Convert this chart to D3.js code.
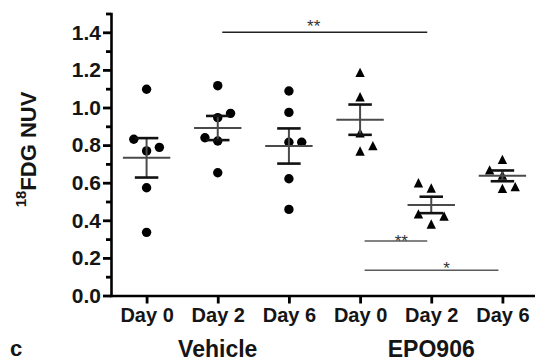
<!DOCTYPE html>
<html>
<head>
<meta charset="utf-8">
<script src="https://cdn.jsdelivr.net/npm/d3@7"></script>
<style>
  body { margin: 0; background: #fff; }
  svg { display: block; font-family: "Liberation Sans", Arial, sans-serif; }
</style>
</head>
<body>
<svg id="chart" width="535" height="361"></svg>
<script>
// groups along the x axis
const groups = ["veh0", "veh2", "veh6", "epo0", "epo2", "epo6"];
const dayLabels = ["Day 0", "Day 2", "Day 6", "Day 0", "Day 2", "Day 6"];
const treatments = ["Vehicle", "EPO906"];
const treatmentGroups = [["veh0", "veh2", "veh6"], ["epo0", "epo2", "epo6"]];

// 18FDG NUV per animal
const vehicleDay0 = [1.097, 0.831, 0.769, 0.788, 0.573, 0.336];
const vehicleDay2 = [1.116, 0.969, 0.946, 0.839, 0.822, 0.653];
const vehicleDay6 = [1.088, 0.974, 0.815, 0.815, 0.621, 0.458];
const epoDay0 = [1.187, 1.057, 0.866, 0.797, 0.769];
const epoDay2 = [0.600, 0.572, 0.434, 0.423, 0.380];
const epoDay6 = [0.724, 0.668, 0.641, 0.579, 0.570];

// side-by-side spreading of overlapping points (-1 left, 0 centre, 1 right)
const vehicleDay0Spread = [0, -1, 0, 1, 0, 0];
const vehicleDay2Spread = [0, 1, 0, -1, 0, 0];
const vehicleDay6Spread = [0, 0, 0, 1, 0, 0];
const epoDay0Spread = [0, 0, 0, 1, 0];
const epoDay2Spread = [-1, 0, -1, 1, 0];
const epoDay6Spread = [0, -1, 0, 1, 0];

const yTicks = [0, 0.2, 0.4, 0.6, 0.8, 1.0, 1.2, 1.4];
const yMinorTicks = [0.1, 0.3, 0.5, 0.7, 0.9, 1.1, 1.3, 1.5];

// significance brackets: from, to, line level, label, label baseline level, label position along line
const brackets = [
  {from: "veh2", to: "epo2", level: 1.40, text: "**", textLevel: 1.402, at: 0.446},
  {from: "epo0", to: "epo2", level: 0.29, text: "**", textLevel: 0.258, at: 0.585},
  {from: "epo0", to: "epo6", level: 0.134, text: "*", textLevel: 0.112, at: 0.612}
];

const series = [
  {key: "veh0", values: vehicleDay0, spread: vehicleDay0Spread, shape: "circle"},
  {key: "veh2", values: vehicleDay2, spread: vehicleDay2Spread, shape: "circle"},
  {key: "veh6", values: vehicleDay6, spread: vehicleDay6Spread, shape: "circle"},
  {key: "epo0", values: epoDay0, spread: epoDay0Spread, shape: "triangle"},
  {key: "epo2", values: epoDay2, spread: epoDay2Spread, shape: "triangle"},
  {key: "epo6", values: epoDay6, spread: epoDay6Spread, shape: "triangle"}
];

const svg = d3.select("#chart");
const margin = {left: 111, bottom: 295.5, top: 13.5, right: 538};

const x = d3.scalePoint()
  .domain(groups)
  .range([margin.left, margin.right])
  .padding(0.5);

const y = d3.scaleLinear()
  .domain([0, 1.5])
  .range([margin.bottom, margin.top]);

const step = x.step();

// ---- axes
svg.append("g")
  .attr("class", "yAxis")
  .attr("transform", `translate(${margin.left},0)`)
  .call(d3.axisLeft(y).tickValues(yTicks).tickFormat(d3.format(".1f"))
    .tickSize(8).tickPadding(2).tickSizeOuter(0));

svg.append("g")
  .attr("class", "minor")
  .attr("transform", `translate(${margin.left},0)`)
  .call(d3.axisLeft(y).tickValues(yMinorTicks).tickFormat("").tickSize(5).tickSizeOuter(0))
  .select(".domain").remove();

svg.append("g")
  .attr("class", "xAxis")
  .attr("transform", `translate(0,${margin.bottom})`)
  .call(d3.axisBottom(x).tickFormat((d, i) => dayLabels[i])
    .tickSize(8).tickPadding(4).tickSizeOuter(0));

svg.selectAll(".domain")
  .attr("stroke", "#000")
  .attr("stroke-width", 2.6)
  .attr("stroke-linecap", "square");
svg.selectAll(".tick line")
  .attr("stroke", "#000")
  .attr("stroke-width", 2.8);
svg.selectAll(".tick text")
  .attr("fill", "#151515")
  .style("font-size", "20px")
  .style("font-weight", "bold");
svg.selectAll(".yAxis .tick text")
  .style("font-size", "21px");

// treatment labels under the day ticks
svg.selectAll("text.treatment")
  .data(treatments)
  .enter()
  .append("text")
  .attr("class", "treatment")
  .attr("x", (d, i) => d3.mean(treatmentGroups[i], g => x(g)))
  .attr("y", 357)
  .attr("text-anchor", "middle")
  .attr("fill", "#151515")
  .style("font-size", "23px")
  .style("font-weight", "bold")
  .text(d => d);

// panel letter
svg.append("text")
  .attr("x", 10)
  .attr("y", 356)
  .attr("fill", "#151515")
  .style("font-size", "22px")
  .style("font-weight", "bold")
  .text("c");

// y axis title
const yTitle = svg.append("text")
  .attr("transform", `translate(33,${(y(0) + y(1.5)) / 2 - 5}) rotate(-90)`)
  .attr("text-anchor", "middle")
  .attr("fill", "#151515")
  .style("font-size", "22px")
  .style("font-weight", "bold");
yTitle.append("tspan").attr("dy", "-0.45em").style("font-size", "15px").text("18");
yTitle.append("tspan").attr("dy", "0.45em").text("FDG NUV");

// ---- markers
const triangle = {
  draw(context, size) {
    const s = Math.sqrt(size);
    context.moveTo(0, -s / 2);
    context.lineTo(s / 2, s / 2);
    context.lineTo(-s / 2, s / 2);
    context.closePath();
  }
};
const markerSize = 9.4;
const laneGap = 12.8;

const points = series.flatMap(s => s.values.map((v, i) => ({
  key: s.key, value: v, lane: s.spread[i], shape: s.shape
})));

svg.append("g")
  .selectAll("path.pt")
  .data(points)
  .enter()
  .append("path")
  .attr("class", "pt")
  .attr("transform", d => `translate(${x(d.key) + d.lane * laneGap},${y(d.value)})`)
  .attr("d", d => d.shape === "circle"
    ? d3.symbol(d3.symbolCircle, Math.PI * (markerSize / 2) ** 2)()
    : d3.symbol(triangle, markerSize * markerSize)())
  .attr("fill", "#000");

// ---- mean +/- SEM
const stats = series.map(s => ({
  key: s.key,
  mean: d3.mean(s.values),
  sem: d3.deviation(s.values) / Math.sqrt(s.values.length)
}));

const err = svg.append("g").selectAll("g").data(stats).enter().append("g");

err.append("line")
  .attr("x1", d => x(d.key)).attr("x2", d => x(d.key))
  .attr("y1", d => y(d.mean + d.sem)).attr("y2", d => y(d.mean - d.sem))
  .attr("stroke", "#4a4a4a").attr("stroke-width", 2);

err.append("line")
  .attr("x1", d => x(d.key) - step * 0.333).attr("x2", d => x(d.key) + step * 0.333)
  .attr("y1", d => y(d.mean)).attr("y2", d => y(d.mean))
  .attr("stroke", "#4a4a4a").attr("stroke-width", 2);

err.selectAll("line.cap")
  .data(d => [d.mean + d.sem, d.mean - d.sem].map(v => ({key: d.key, v})))
  .enter()
  .append("line")
  .attr("class", "cap")
  .attr("x1", d => x(d.key) - step * 0.165).attr("x2", d => x(d.key) + step * 0.165)
  .attr("y1", d => y(d.v)).attr("y2", d => y(d.v))
  .attr("stroke", "#111").attr("stroke-width", 2.6);

// ---- significance brackets
const sig = svg.append("g").selectAll("g").data(brackets).enter().append("g");

sig.append("line")
  .attr("x1", d => x(d.from) + 4.5)
  .attr("x2", d => x(d.to) - 4)
  .attr("y1", d => y(d.level)).attr("y2", d => y(d.level))
  .attr("stroke", (d, i) => i === 0 ? "#222" : "#5a5a5a")
  .attr("stroke-width", 1.6);

sig.append("text")
  .attr("x", d => {
    const a = x(d.from) + 4.5, b = x(d.to) - 4;
    return a + (b - a) * d.at;
  })
  .attr("y", d => y(d.textLevel))
  .attr("text-anchor", "middle")
  .attr("fill", "#333")
  .style("font-size", "17px")
  .text(d => d.text);
</script>
</body>
</html>
